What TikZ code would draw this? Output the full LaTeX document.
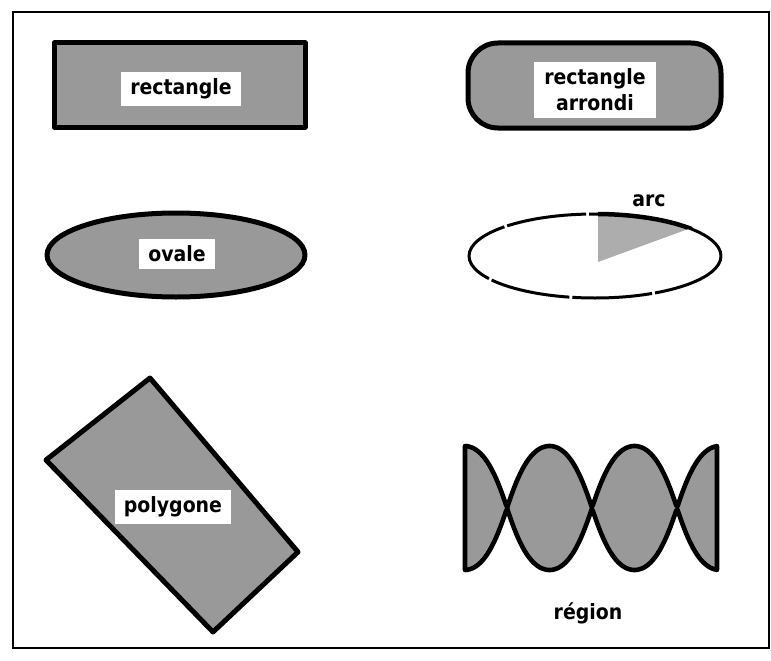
\documentclass[tikz,border=0pt]{standalone}
\usepackage{fontspec}
\newfontfamily\labfont{DejaVu Sans Condensed}
\begin{document}
\begin{tikzpicture}[x=1pt,y=-1pt,
  fig/.style={draw=black,line width=5pt,fill=black!40,line join=round},
  lab/.style={fill=white,inner xsep=9pt,inner ysep=7pt,font=\labfont\bfseries\fontsize{21}{24}\selectfont,align=center},
  plainlab/.style={inner sep=0pt,font=\labfont\bfseries\fontsize{21}{24}\selectfont},
  declare function={lobe(\t)=abs(sin(2.117647*(\t-507)))*(1.35-0.35*abs(sin(2.117647*(\t-507))));}]
\useasboundingbox (0,0) rectangle (771,661);
% frame
\draw[line width=1.4pt] (13,12) rectangle (769,648);
% rectangle
\draw[fig] (54,43) rectangle (305,127);
\node[lab] (rect) at (181,89) {rectangle};
% rounded rectangle
\draw[fig,rounded corners=30pt] (468,43) rectangle (721,128);
\node[lab,inner ysep=7pt,inner xsep=10pt] (rrect) at (595,90) {rectangle\\[2pt]arrondi};
% oval
\draw[fig] (176,255) ellipse [x radius=129, y radius=42];
\node[lab] (oval) at (177,254) {ovale};
% arc
\begin{scope}
  \clip (595,256) ellipse [x radius=126, y radius=42];
  \fill[black!32] (598,262) -- (598,190) -- (762,202) -- cycle;
\end{scope}
\draw[line width=3pt,dash pattern=on 80pt off 3pt] (595,256) ellipse [x radius=126, y radius=42];
\begin{scope}
  \clip (598,262) -- (598,190) -- (762,202) -- cycle;
  \draw[line width=4.5pt] (595,256) ellipse [x radius=126, y radius=42];
\end{scope}
\node[plainlab] (arc) at (649,201) {arc};
% polygon
\draw[fig] (150,378) -- (298,552) -- (213,632) -- (46,460) -- cycle;
\node[lab] (poly) at (173,507) {polygone};
% region
\draw[fig,line width=4.6pt]
  plot[domain=465:717,samples=180] (\x,{508-62*lobe(\x)})
  -- plot[domain=717:465,samples=180] (\x,{508+62*lobe(\x)})
  -- cycle;
\node[plainlab] (reg) at (588,613) {région};
\end{tikzpicture}
\end{document}
